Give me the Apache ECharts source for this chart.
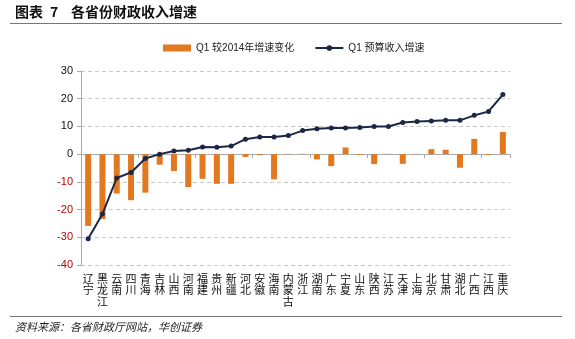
<!DOCTYPE html>
<html>
<head>
<meta charset="utf-8">
<script src="https://cdn.jsdelivr.net/npm/echarts@6/dist/echarts.min.js"></script>
<style>html,body{margin:0;padding:0;background:#fff;}#c{width:575px;height:339px;}</style>
</head>
<body>
<div id="c"></div>
<script>
const categories = ['辽宁','黑龙江','云南','四川','青海','吉林','山西','河南','福建','贵州','新疆','河北','安徽','海南','内蒙古','浙江','湖南','广东','宁夏','山东','陕西','江苏','天津','上海','北京','甘肃','湖北','广西','江西','重庆'];
const changeVs2014 = [-25.9,-23.4,-14.2,-16.6,-13.9,-3.8,-6.1,-11.9,-8.9,-10.7,-10.7,-1.0,-0.4,-9.1,0.1,0.1,-1.9,-4.3,2.4,-0.3,-3.6,0.1,-3.5,0.1,1.8,1.6,-4.9,5.5,-0.3,8.0];
const q1Growth = [-30.5,-21.6,-8.6,-6.6,-1.6,0.0,1.1,1.4,2.6,2.5,2.9,5.4,6.2,6.2,6.7,8.5,9.2,9.4,9.4,9.6,10.0,10.0,11.4,11.8,12.0,12.2,12.2,14.0,15.4,21.5];
const yTicks = {min:-40, max:30, interval:10};

const chart = echarts.init(document.getElementById('c'), null, {renderer:'canvas'});
const FONT = 'Arial, "Liberation Sans", "Noto Sans CJK SC", sans-serif';
const CJK = '"Noto Sans CJK SC", sans-serif';
chart.setOption({
  animation:false,
  backgroundColor:'#fff',
  graphic:[
    {type:'text', left:15, top:5, style:{text:'图表', font:'bold 14px '+CJK, fill:'#111'}},
    {type:'text', left:50, top:5, style:{text:'7', font:'bold 14px '+CJK, fill:'#111'}},
    {type:'text', left:71, top:5, style:{text:'各省份财政收入增速', font:'bold 14px '+CJK, fill:'#111'}},
    {type:'line', shape:{x1:10,y1:23.5,x2:562,y2:23.5}, style:{stroke:'#777', lineWidth:1}},
    {type:'line', shape:{x1:10,y1:316.5,x2:562,y2:316.5}, style:{stroke:'#777', lineWidth:1}},
    {type:'text', left:15, top:321, style:{text:'资料来源：各省财政厅网站，华创证券', font:'italic 11px '+CJK, fill:'#222'}}
  ],
  legend:{
    top:38, left:158,
    itemGap:20,
    itemWidth:28, itemHeight:7,
    textStyle:{fontSize:10, color:'#222', fontFamily:FONT},
    data:[
      {name:'Q1 较2014年增速变化', icon:'rect'},
      {name:'Q1 预算收入增速'}
    ]
  },
  grid:{left:81, right:65, top:71, bottom:74},
  xAxis:[
    {type:'category', data:categories, axisLine:{onZero:true, lineStyle:{color:'#aaa'}},
     axisTick:{show:true, length:4, lineStyle:{color:'#aaa'}}, axisLabel:{show:false}},
    {type:'category', data:categories, position:'bottom', axisLine:{show:false, onZero:false}, axisTick:{show:false},
     axisLabel:{interval:0, margin:8, fontSize:11, lineHeight:11.5, color:'#111', fontFamily:CJK,
       formatter:v=>v.split('').join('\n')}}
  ],
  yAxis:{
    type:'value', min:yTicks.min, max:yTicks.max, interval:yTicks.interval,
    axisLine:{show:true, lineStyle:{color:'#aaa'}},
    axisTick:{show:true, length:4, inside:false, lineStyle:{color:'#aaa'}},
    splitLine:{lineStyle:{type:[4,3], color:'#c8c8c8'}},
    axisLabel:{fontSize:11, margin:8, fontFamily:FONT,
      formatter:v=> v<0 ? '{n|'+v+'}' : '{p|'+v+'}',
      rich:{n:{color:'#c00000', fontSize:11, fontFamily:FONT}, p:{color:'#111', fontSize:11, fontFamily:FONT}}}
  },
  series:[
    {name:'Q1 较2014年增速变化', type:'bar', xAxisIndex:0, data:changeVs2014, barWidth:6,
     itemStyle:{color:'#E2781F'}},
    {name:'Q1 预算收入增速', type:'line', xAxisIndex:0, data:q1Growth, symbol:'circle', symbolSize:5,
     lineStyle:{color:'#1C2747', width:2}, itemStyle:{color:'#1C2747'}}
  ]
});
</script>
</body>
</html>
